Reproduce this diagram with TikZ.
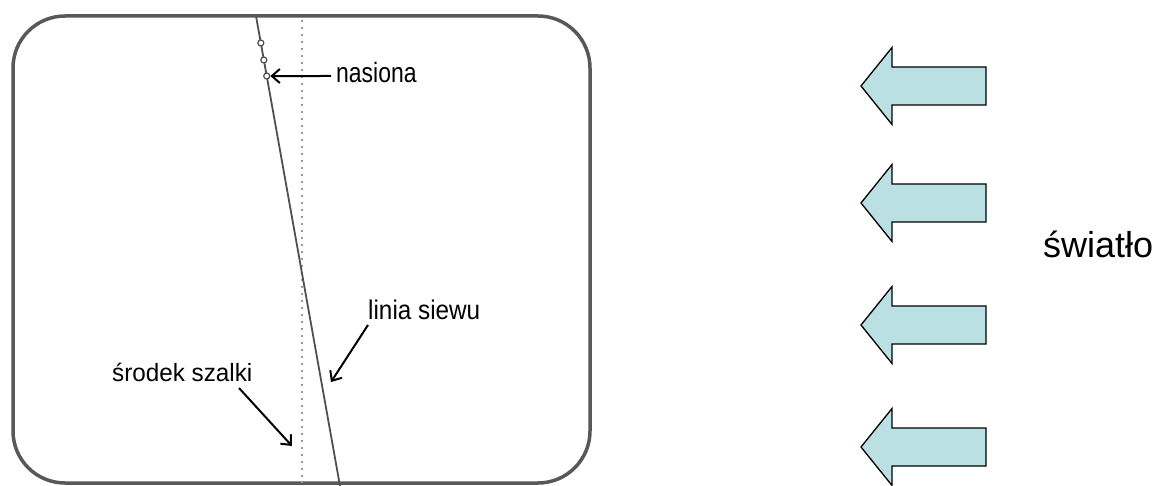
\documentclass[tikz,border=0pt]{standalone}
\usepackage{fontspec}
\setmainfont{Liberation Sans}
\usetikzlibrary{arrows.meta,calc}
\definecolor{boxgray}{HTML}{585858}
\definecolor{linegray}{HTML}{505050}
\definecolor{dotgray}{HTML}{9A9A9A}
\definecolor{lightcyan}{HTML}{BBE0E3}
\begin{document}
\begin{tikzpicture}[x=1pt,y=-1pt,
  lbl/.style={inner sep=0pt, anchor=base west},
  ptr/.style={draw=black, line width=2pt, -{Straight Barb[length=8pt,width=14pt,line width=2pt]}},
  lightarrow/.style={draw=black, line width=1.3pt, fill=lightcyan, line join=miter},
  seed/.style={circle, draw=linegray, line width=1.2pt, minimum size=6pt, inner sep=0pt, fill=white},
  sowline/.style={draw=linegray, line width=1.8pt},
  centerline/.style={draw=dotgray, line width=1.6pt, dash pattern=on 1.6pt off 5.4pt},
  dish/.style={draw=boxgray, line width=3.5pt, rounded corners=52pt}
  ]
\useasboundingbox (0,0) rectangle (1160,486);
% dish
\draw[dish] (13,16) rectangle (590,483);
% centre line
\coordinate (ct) at (302,20);
\coordinate (cb) at (302,483);
\draw[centerline] (ct) -- (cb);
% sowing line
\coordinate (lt) at (256,16);
\coordinate (lb) at (340,486);
\draw[sowline] (lt) -- (lb);
% seeds
\node[seed] (s1) at ($(lt)!0.0574!(lb)$) {};
\node[seed] (s2) at ($(lt)!0.0936!(lb)$) {};
\node[seed] (s3) at ($(lt)!0.1277!(lb)$) {};
% labels
\node[lbl] (nas) at (336,83) {\scalebox{0.82}[1]{\fontsize{28}{30}\selectfont nasiona}};
\coordinate (nasstart) at (331,76);
\draw[ptr] (nasstart) -- (s3.east);
\node[lbl] (lin) at (368,320) {\scalebox{0.9}[1]{\fontsize{27}{30}\selectfont linia siewu}};
\coordinate (linstart) at (368,325);
\coordinate (linend) at (331,382);
\draw[ptr] (linstart) -- (linend);
\node[lbl] (sro) at (112,382) {\scalebox{0.97}[1]{\fontsize{25}{30}\selectfont środek szalki}};
\coordinate (srostart) at (239,388);
\coordinate (sroend) at (292,446);
\draw[ptr] (srostart) -- (sroend);
\node[lbl] (swi) at (1043,258) {\fontsize{36}{40}\selectfont światło};
% light arrows
\foreach \yy in {86,203,325,447}{
  \draw[lightarrow] (861,\yy) -- (892,\yy-38.5) -- (892,\yy-19) -- (986,\yy-19)
     -- (986,\yy+19) -- (892,\yy+19) -- (892,\yy+38.5) -- cycle;
}
\end{tikzpicture}
\end{document}
